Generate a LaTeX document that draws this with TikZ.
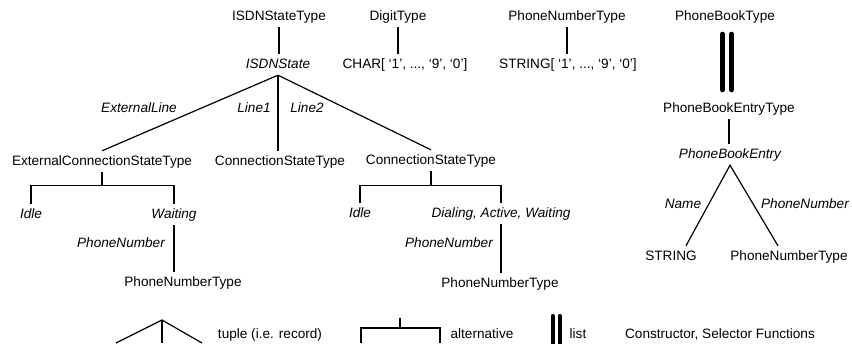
\documentclass[tikz,border=0pt]{standalone}
\usepackage{fontspec}
\setmainfont{Liberation Sans}
\begin{document}
\begin{tikzpicture}[x=1pt,y=-1pt,
  lbl/.style={anchor=base, inner xsep=2pt, inner ysep=4pt, text height=10pt, text depth=3pt,
              font=\fontsize{13.6}{16}\selectfont},
  role/.style={lbl, font=\fontsize{13.6}{16}\selectfont\itshape},
  edge/.style={line width=1.2pt},
  listbar/.style={line width=5pt, line cap=round},
  keybar/.style={line width=4pt, line cap=round}]
\useasboundingbox (0,0) rectangle (852,343);

% ---------- type definitions along the top ----------
\node[lbl]  (isdnT)  at (279,20) {ISDNStateType};
\node[lbl]  (digitT) at (398,20) {DigitType};
\node[lbl]  (phoneT) at (567,20) {PhoneNumberType};
\node[lbl]  (bookT)  at (725,20) {PhoneBookType};

\node[role] (isdnS)  at (278,68) {ISDNState};
\node[lbl]  (charT)  at (405,68) {CHAR[ ‘1’, ..., ‘9’, ‘0’]};
\node[lbl]  (strT)   at (568,68) {STRING[ ‘1’, ..., ‘9’, ‘0’]};

\draw[edge] (isdnT.south)  -- (isdnT.south |- isdnS.north);
\draw[edge] (digitT.south) -- (digitT.south |- charT.north);
\draw[edge] (phoneT.south) -- (phoneT.south |- strT.north);

% ---------- ISDNState tuple ----------
\node[lbl] (ecst) at (102,165) {ExternalConnectionStateType};
\node[lbl] (cst1) at (280,165) {ConnectionStateType};
\node[lbl] (cst2) at (431,164) {ConnectionStateType};

\draw[edge] (ecst.north) -- (isdnS.south) -- (cst2.north);
\draw[edge] (isdnS.south) -- (isdnS.south |- cst1.north);

\node[role] (extL)  at (139,112) {ExternalLine};
\node[role] (line1) at (254,112) {Line1};
\node[role] (line2) at (307,112) {Line2};

% ---------- ExternalConnectionStateType alternative ----------
\node[role] (idle1) at (31,218)  {Idle};
\node[role] (wait1) at (174,218) {Waiting};
\coordinate (j1) at ([yshift=-13pt]ecst.south);
\draw[edge] (ecst.south) -- (j1);
\draw[edge] (idle1.north) |- (j1) -| (wait1.north);

\node[role] (pnL1) at (121,247) {PhoneNumber};
\node[lbl]  (pnt1) at (183,286) {PhoneNumberType};
\draw[edge] (wait1.south) -- (wait1.south |- pnt1.north);

% ---------- ConnectionStateType alternative ----------
\node[role] (idle2) at (360,217) {Idle};
\node[role] (dial)  at (501,217) {Dialing, Active, Waiting};
\coordinate (j2) at ([yshift=-14pt]cst2.south);
\draw[edge] (cst2.south) -- (j2);
\draw[edge] (idle2.north) |- (j2) -| (dial.north);

\node[role] (pnL2) at (449,247) {PhoneNumber};
\node[lbl]  (pnt2) at (500,287) {PhoneNumberType};
\draw[edge] (dial.south) -- (dial.south |- pnt2.north);

% ---------- PhoneBookType list ----------
\node[lbl]  (bookE)  at (729,112) {PhoneBookEntryType};
\node[role] (bookEn) at (730,158) {PhoneBookEntry};
\draw[listbar, shorten <=7pt, shorten >=8pt]
  ([xshift=-2.5pt]bookT.south) -- ([xshift=-2.5pt]bookT.south |- bookE.north);
\draw[listbar, shorten <=7pt, shorten >=8pt]
  ([xshift=6.5pt]bookT.south) -- ([xshift=6.5pt]bookT.south |- bookE.north);
\draw[edge] (bookE.south) -- (bookE.south |- bookEn.north);

% ---------- PhoneBookEntry tuple ----------
\node[lbl]  (strE)  at (671,260) {STRING};
\node[lbl]  (pnt3)  at (789,260) {PhoneNumberType};
\node[role] (nameL) at (683,208) {Name};
\node[role] (pnL3)  at (805,208) {PhoneNumber};
\draw[edge] ([xshift=15pt]strE.north) -- (bookEn.south) -- ([xshift=-11pt]pnt3.north);

% ---------- key ----------
\coordinate (tApex) at (162,320);
\draw[edge] (116,343) -- (tApex) -- (202,343);
\draw[edge] (tApex) -- (162,343);
\node[lbl] (kTuple) at (270,338) {tuple (i.e. record)};

\coordinate (aTop) at (400,318);
\coordinate (aBar) at (400,328);
\draw[edge] (aTop) -- (aBar);
\draw[edge] (361,343) |- (aBar) -| (440,343);
\node[lbl] (kAlt) at (482,338) {alternative};

\draw[keybar] (552.5,316) -- (552.5,345);
\draw[keybar] (559.5,316) -- (559.5,345);
\node[lbl] (kList) at (578,338) {list};

\node[lbl] (kFun) at (720,338) {Constructor, Selector Functions};
\end{tikzpicture}
\end{document}
